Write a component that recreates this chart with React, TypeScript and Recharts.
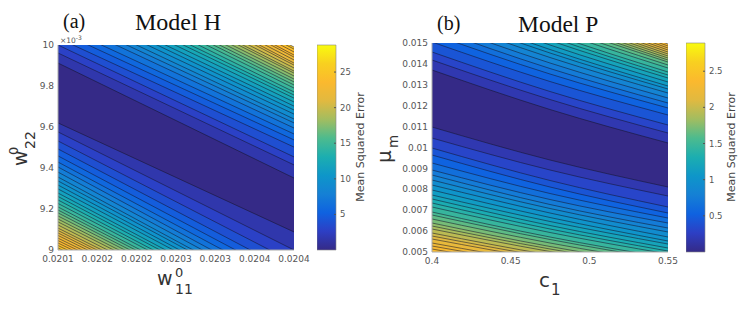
import { Area, AreaChart, Bar, BarChart, XAxis, YAxis } from 'recharts'

// each contour is [y at each x in the x list]
// upper = lines above the valley, lower = lines below it, both counted outward from the valley
const hX = [0.0201, 0.0204]
const hXTicks = [0.0201, 0.02015, 0.0202, 0.02025, 0.0203, 0.02035, 0.0204]
const hXLabels = ['0.0201', '0.0202', '0.0202', '0.0203', '0.0203', '0.0204', '0.0204']
const hYTicks = [9, 9.2, 9.4, 9.6, 9.8, 10]
const hUpper = [
  [9.912, 9.351], [9.961, 9.415], [10.0, 9.454], [10.034, 9.502], [10.068, 9.537], [10.098, 9.566],
  [10.132, 9.595], [10.156, 9.62], [10.18, 9.639], [10.205, 9.663], [10.229, 9.683], [10.249, 9.702],
  [10.273, 9.722], [10.293, 9.741], [10.312, 9.756], [10.337, 9.771], [10.356, 9.79], [10.376, 9.805],
  [10.39, 9.82], [10.41, 9.834], [10.424, 9.849], [10.444, 9.863], [10.459, 9.873], [10.473, 9.888],
  [10.498, 9.902], [10.512, 9.912], [10.527, 9.927], [10.546, 9.941], [10.561, 9.951], [10.576, 9.966],
  [10.59, 9.98], [10.605, 9.99],
]
const hLower = [
  [9.62, 9.088], [9.576, 9.0], [9.532, 8.939], [9.493, 8.888], [9.459, 8.849], [9.429, 8.815],
  [9.405, 8.783], [9.38, 8.759], [9.356, 8.734], [9.337, 8.722], [9.317, 8.702], [9.298, 8.688],
  [9.278, 8.668], [9.261, 8.657], [9.244, 8.639], [9.227, 8.629], [9.21, 8.61], [9.195, 8.602],
  [9.181, 8.588], [9.166, 8.58], [9.151, 8.566], [9.137, 8.556], [9.122, 8.541], [9.107, 8.532],
  [9.095, 8.519], [9.083, 8.512], [9.071, 8.502], [9.058, 8.493], [9.046, 8.483], [9.034, 8.476],
  [9.022, 8.463], [9.01, 8.458],
]
const hBarTicks = [5, 10, 15, 20, 25]
const hBarMax = 28.8

const pX = [0.4, 0.475, 0.55]
const pXTicks = [0.4, 0.45, 0.5, 0.55]
const pYTicks = [0.005, 0.006, 0.007, 0.008, 0.009, 0.01, 0.011, 0.012, 0.013, 0.014, 0.015]
const pUpper = [
  [0.013708, 0.011818, 0.010215], [0.014186, 0.012296, 0.010693], [0.014569, 0.012679, 0.011076],
  [0.015047, 0.013157, 0.011555], [0.01543, 0.013516, 0.01189], [0.015717, 0.013779, 0.012129],
  [0.016004, 0.014043, 0.012368], [0.016291, 0.014306, 0.012607], [0.016531, 0.014521, 0.012799],
  [0.016722, 0.014689, 0.012942], [0.016961, 0.014904, 0.013134], [0.017201, 0.015119, 0.013325],
  [0.017392, 0.015287, 0.013468], [0.017583, 0.015454, 0.013612], [0.017823, 0.015669, 0.013803],
  [0.018014, 0.015837, 0.013947], [0.018205, 0.016004, 0.01409], [0.018349, 0.016124, 0.014186],
  [0.018492, 0.016244, 0.014282], [0.018636, 0.016363, 0.014378], [0.018779, 0.016483, 0.014473],
  [0.018923, 0.016602, 0.014569], [0.019067, 0.016722, 0.014665], [0.01921, 0.016842, 0.01476],
  [0.019354, 0.016961, 0.014856], [0.019497, 0.017081, 0.014952],
]
const pLower = [
  [0.01098, 0.009401, 0.00811], [0.010454, 0.008923, 0.007679], [0.009976, 0.008421, 0.007153],
  [0.009641, 0.00811, 0.006866], [0.009258, 0.007799, 0.006626], [0.008923, 0.007511, 0.006387],
  [0.008684, 0.007272, 0.006148], [0.008444, 0.007081, 0.005957], [0.008205, 0.006866, 0.005717],
  [0.007966, 0.00665, 0.005526], [0.007727, 0.006459, 0.005382], [0.007536, 0.006268, 0.005191],
  [0.007344, 0.0061, 0.005047], [0.007153, 0.005933, 0.004904], [0.006913, 0.005717, 0.004713],
  [0.00677, 0.005598, 0.004617], [0.006579, 0.00543, 0.004473], [0.006387, 0.005263, 0.00433],
  [0.006244, 0.005143, 0.004234], [0.0061, 0.005023, 0.004138], [0.005909, 0.004856, 0.003995],
  [0.005765, 0.004736, 0.003899], [0.005622, 0.004617, 0.003804], [0.00543, 0.004449, 0.00366],
  [0.005287, 0.00433, 0.003564], [0.005143, 0.00421, 0.003468],
]
const pBarTicks = [0.5, 1, 1.5, 2, 2.5]
const pBarMax = 2.89

const parulaStops = [
  '#352a87', '#2d3fc4', '#0f62e0', '#1580d5', '#0e96c9', '#1caeb0',
  '#4dbb8e', '#a2bd60', '#e1b940', '#fbb92e', '#f8d020', '#f9fb0e',
]
const TICK_COLOR = '#555'
const TICK_FONT = { fontFamily: 'DejaVu Sans', fontSize: 9, fill: TICK_COLOR }

function parula(t: number) {
  const pos = Math.min(Math.max(t, 0), 1) * (parulaStops.length - 1)
  const i = Math.min(Math.floor(pos), parulaStops.length - 2)
  const f = pos - i
  const a = parulaStops[i]
  const b = parulaStops[i + 1]
  const mix = (s: number) => {
    const va = parseInt(a.slice(s, s + 2), 16)
    const vb = parseInt(b.slice(s, s + 2), 16)
    return Math.round(va + (vb - va) * f)
  }
  return `rgb(${mix(1)},${mix(3)},${mix(5)})`
}

// band colour for the k-th band out from the valley
const bandColor = (k: number, levels: number) => parula(Math.pow(k / levels, 0.8) * 0.93)

interface ContourPanelProps {
  xs: number[]
  upper: number[][]
  lower: number[][]
  xDomain: [number, number]
  yDomain: [number, number]
  xTicks: number[]
  yTicks: number[]
  xLabels?: string[]
  base: number
  levels: number
  curve: 'linear' | 'monotone'
  left: number
  top: number
  plotHeight: number
}

function ContourPanel(props: ContourPanelProps) {
  const { xs, upper, lower, xDomain, yDomain, xTicks, yTicks, xLabels, base, levels, curve, left, top, plotHeight } = props
  // painted from the top of the plot to the bottom, each area covers everything under its line
  const lines = [
    ...upper.map((_, i) => ({ key: `u${i}`, color: bandColor(i, levels) })).reverse(),
    ...lower.map((_, i) => ({ key: `l${i}`, color: bandColor(i + 1, levels) })),
  ]
  const rows = xs.map((x, n) => {
    const row: Record<string, number> = { x }
    upper.forEach((c, i) => (row[`u${i}`] = c[n]))
    lower.forEach((c, i) => (row[`l${i}`] = c[n]))
    return row
  })
  return (
    <div style={{ position: 'absolute', left: left - 60, top: 0 }}>
      <AreaChart
        width={330}
        height={309}
        data={rows}
        margin={{ top, right: 34, bottom: 0, left: 0 }}
      >
        <XAxis
          type="number"
          dataKey="x"
          domain={xDomain}
          ticks={xTicks}
          interval={0}
          allowDataOverflow
          height={309 - top - plotHeight}
          tick={TICK_FONT}
          tickLine={false}
          tickMargin={6}
          tickSize={0}
          axisLine={{ stroke: '#aaa' }}
          tickFormatter={(v: number, i: number) => (xLabels ? xLabels[i] : String(v))}
        />
        <YAxis
          type="number"
          domain={yDomain}
          ticks={yTicks}
          interval={0}
          allowDataOverflow
          width={60}
          tick={TICK_FONT}
          tickLine={false}
          tickMargin={4}
          tickSize={0}
          axisLine={{ stroke: '#aaa' }}
        />
        {lines.map((l) => (
          <Area
            key={l.key}
            dataKey={l.key}
            type={curve}
            baseValue={base}
            fill={l.color}
            fillOpacity={1}
            stroke="#14142a"
            strokeWidth={0.75}
            strokeOpacity={0.72}
            dot={false}
            activeDot={false}
            isAnimationActive={false}
          />
        ))}
      </AreaChart>
    </div>
  )
}

function ColorBar({ id, max, ticks, left, top, plotHeight }: { id: string; max: number; ticks: number[]; left: number; top: number; plotHeight: number }) {
  return (
    <div style={{ position: 'absolute', left, top: 0 }}>
      <BarChart
        width={19 + 30}
        height={309}
        data={[{ name: 'bar', value: max }]}
        margin={{ top, right: 0, bottom: 309 - top - plotHeight, left: 0 }}
        barCategoryGap={0}
      >
        <defs>
          <linearGradient id={id} x1="0" y1="1" x2="0" y2="0">
            {parulaStops.map((c, i) => (
              <stop key={c} offset={i / (parulaStops.length - 1)} stopColor={c} />
            ))}
          </linearGradient>
        </defs>
        <XAxis dataKey="name" hide />
        <YAxis
          orientation="right"
          type="number"
          domain={[0, max]}
          ticks={ticks}
          interval={0}
          width={30}
          tick={{ ...TICK_FONT, fontSize: 8.5 }}
          tickSize={-2}
          tickMargin={6}
          tickLine={{ stroke: '#555' }}
          axisLine={false}
        />
        <Bar dataKey="value" fill={`url(#${id})`} stroke="#888" strokeWidth={0.6} isAnimationActive={false} />
      </BarChart>
    </div>
  )
}

const serif = { fontFamily: 'Liberation Serif', fill: '#111' }
const sans = { fontFamily: 'DejaVu Sans', fill: '#333' }

function Annotations() {
  return (
    <svg width={748} height={309} style={{ position: 'absolute', left: 0, top: 0, pointerEvents: 'none' }}>
      <text x={63} y={28} fontSize={20} {...serif}>(a)</text>
      <text x={135} y={30} fontSize={24} {...serif}>Model H</text>
      <text x={437} y={30} fontSize={20} {...serif}>(b)</text>
      <text x={518} y={32} fontSize={23.5} {...serif}>Model P</text>

      <text x={60} y={43} fontSize={7.5} fill={TICK_COLOR} fontFamily="DejaVu Sans">
        ×10<tspan dy={-3} fontSize={6}>-3</tspan>
      </text>

      <text x={157} y={285} fontSize={19} {...sans}>w</text>
      <text x={175} y={277} fontSize={13} {...sans}>0</text>
      <text x={175} y={294} fontSize={14} {...sans}>11</text>

      <text transform="translate(27,166) rotate(-90)" fontSize={19} {...sans}>w</text>
      <text transform="translate(18,155) rotate(-90)" fontSize={13} {...sans}>0</text>
      <text transform="translate(35,149) rotate(-90)" fontSize={14} {...sans}>22</text>

      <text x={539} y={287} fontSize={20} {...sans}>c</text>
      <text x={551} y={295} fontSize={15} {...sans}>1</text>

      <text transform="translate(391,163) rotate(-90)" fontSize={20} {...sans}>μ</text>
      <text transform="translate(398,148) rotate(-90)" fontSize={13.5} {...sans}>m</text>

      <text transform="translate(364,147) rotate(-90)" textAnchor="middle" fontSize={11} {...sans} fill="#444">Mean Squared Error</text>
      <text transform="translate(735,147) rotate(-90)" textAnchor="middle" fontSize={11} {...sans} fill="#444">Mean Squared Error</text>
    </svg>
  )
}

export default function App() {
  return (
    <div style={{ position: 'absolute', left: 0, top: 0, width: 748, height: 309, background: '#fff', overflow: 'hidden' }}>
      <ContourPanel
        xs={hX}
        upper={hUpper}
        lower={hLower}
        xDomain={[0.0201, 0.0204]}
        yDomain={[9, 10]}
        xTicks={hXTicks}
        yTicks={hYTicks}
        xLabels={hXLabels}
        base={8}
        levels={34}
        curve="linear"
        left={58}
        top={45}
        plotHeight={205}
      />
      <ContourPanel
        xs={pX}
        upper={pUpper}
        lower={pLower}
        xDomain={[0.4, 0.55]}
        yDomain={[0.005, 0.015]}
        xTicks={pXTicks}
        yTicks={pYTicks}
        base={0}
        levels={30}
        curve="monotone"
        left={432}
        top={43}
        plotHeight={209}
      />
      <ColorBar id="barH" max={hBarMax} ticks={hBarTicks} left={317} top={45} plotHeight={205} />
      <ColorBar id="barP" max={pBarMax} ticks={pBarTicks} left={686} top={43} plotHeight={209} />
      <Annotations />
    </div>
  )
}
